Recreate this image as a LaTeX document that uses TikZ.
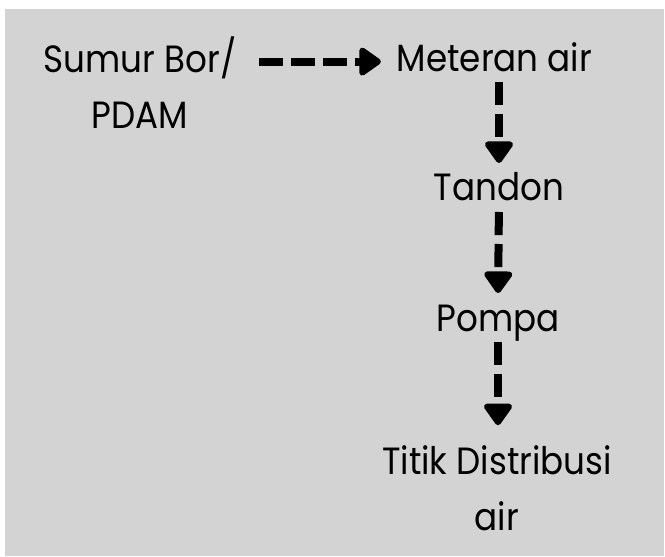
\documentclass[tikz,border=0pt]{standalone}
\usepackage{fontspec}
\setmainfont{Poppins}[FakeStretch=0.9]
\usepackage{tikz}
\usetikzlibrary{arrows.meta,positioning,calc}
\definecolor{PanelGray}{RGB}{211,211,211}

\begin{document}
\begin{tikzpicture}[
      font=\fontsize{27pt}{39.8pt}\selectfont,
      txt/.style={inner sep=0pt,outer sep=0pt,align=center},
      oneline/.style={txt,text height=0.7cm,text depth=0pt},
      flow/.style={line width=0.2cm,dash pattern=on 0.58cm off 0.22cm,
        -{Triangle[length=0.6cm,width=0.8cm,round]}}
    ]
      \useasboundingbox (0,0) rectangle (16.625,13.9);
      \fill[PanelGray] (0.125,0) rectangle (16.6,13.675);

      \node[txt,anchor=base] (sumur) at (3.5,10.7) {Sumur Bor/\\PDAM};
      \node[oneline,anchor=base] (meter) at (12.3625,12.1) {Meteran air};
      \node[oneline,anchor=base] (tandon) at (12.475,8.9) {Tandon};
      \node[oneline,anchor=base] (pompa) at (12.45,5.625) {Pompa};
      \node[txt,anchor=base] (titik) at (12.425,0.65) {Titik Distribusi\\air};

      \draw[flow,shorten <=0.575cm,shorten >=0.4cm]
        ([yshift=-0.09cm]sumur.east |- meter.west) -- ([yshift=-0.09cm]meter.west);
      \draw[flow,shorten <=0.25cm,shorten >=0.225cm] (tandon.north |- meter.south) -- (tandon.north);
      \draw[flow,shorten <=0.3cm,shorten >=0.25cm] (tandon.south) -- (pompa.north);
      \draw[flow,shorten <=0.275cm,shorten >=0.5cm] (pompa.south) -- (pompa.south |- titik.north);
    \end{tikzpicture}
\end{document}
